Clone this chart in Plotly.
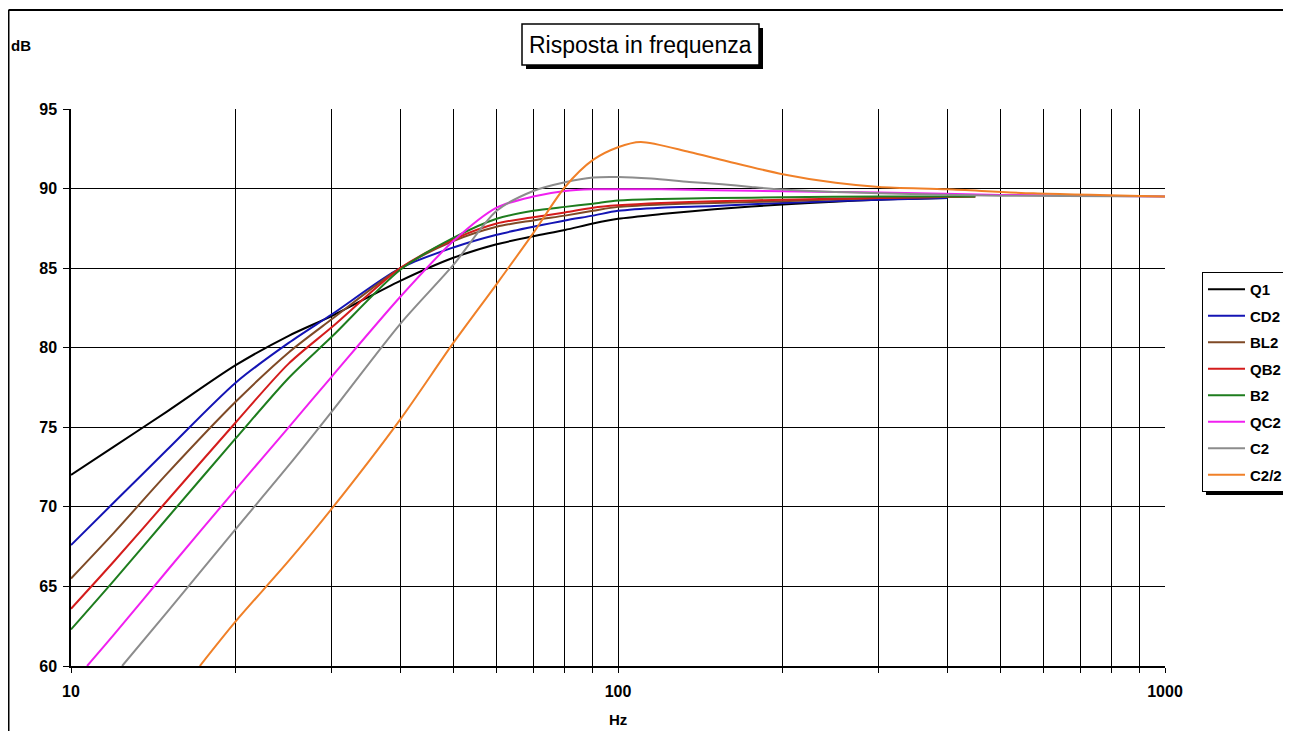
import plotly.graph_objects as go

# ---------------- data ----------------
series_names = ["Q1", "CD2", "BL2", "QB2", "B2", "QC2", "C2", "C2/2"]

freq_Q1 = [10, 12, 15, 20, 25, 30, 40, 50, 60, 70, 80, 90, 100, 120, 150, 200, 300, 400]
db_Q1 = [72.0, 73.8, 76.0, 78.9, 80.75, 82.0, 84.2, 85.65, 86.5, 87.0, 87.4, 87.8, 88.1, 88.4, 88.7, 89.0, 89.3, 89.4]

freq_CD2 = [10, 12, 15, 20, 25, 30, 40, 50, 60, 70, 80, 90, 100, 120, 150, 200, 300, 400]
db_CD2 = [67.6, 70.3, 73.6, 77.8, 80.3, 82.1, 85.0, 86.3, 87.1, 87.6, 88.0, 88.3, 88.6, 88.8, 88.9, 89.1, 89.3, 89.4]

freq_BL2 = [10, 12, 15, 20, 25, 30, 40, 50, 60, 70, 80, 90, 100, 120, 150, 200, 300, 450]
db_BL2 = [65.5, 68.4, 72.1, 76.6, 79.7, 81.8, 85.0, 86.7, 87.6, 88.0, 88.3, 88.6, 88.85, 89.0, 89.1, 89.2, 89.4, 89.5]

freq_QB2 = [10, 12, 15, 20, 25, 30, 40, 50, 60, 70, 80, 90, 100, 120, 150, 200, 300, 450]
db_QB2 = [63.6, 66.6, 70.4, 75.3, 79.0, 81.3, 85.0, 86.8, 87.8, 88.2, 88.5, 88.8, 88.95, 89.1, 89.2, 89.3, 89.4, 89.5]

freq_B2 = [10, 12, 15, 20, 25, 30, 40, 50, 60, 70, 80, 90, 100, 120, 150, 200, 300, 450]
db_B2 = [62.3, 65.4, 69.3, 74.3, 78.1, 80.7, 84.9, 86.9, 88.1, 88.6, 88.85, 89.05, 89.25, 89.35, 89.4, 89.45, 89.5, 89.5]

freq_QC2 = [10.7, 12, 15, 20, 25, 30, 40, 50, 60, 70, 80, 90, 100, 120, 150, 200, 300, 500, 1000]
db_QC2 = [60.0, 62.0, 66.0, 71.1, 75.0, 78.2, 83.2, 86.7, 88.8, 89.5, 89.85, 89.95, 89.96, 89.95, 89.9, 89.83, 89.75, 89.6, 89.5]

freq_C2 = [12.4, 15, 20, 25, 30, 40, 50, 60, 70, 80, 90, 100, 115, 135, 155, 175, 200, 300, 500, 1000]
db_C2 = [60.0, 63.4, 68.6, 72.6, 76.0, 81.5, 85.2, 88.6, 89.85, 90.4, 90.7, 90.73, 90.63, 90.42, 90.27, 90.1, 89.94, 89.7, 89.55, 89.5]

freq_C2_2 = [17.2, 20, 25, 30, 40, 50, 60, 70, 80, 90, 100, 110, 135, 155, 200, 250, 300, 400, 575, 1000]
db_C2_2 = [60.0, 62.8, 66.6, 69.9, 75.5, 80.3, 84.0, 87.2, 90.1, 91.8, 92.6, 92.93, 92.3, 91.8, 90.9, 90.36, 90.1, 89.95, 89.7, 89.5]

x_tick_vals = [10, 20, 30, 40, 50, 60, 70, 80, 90, 100, 200, 300, 400, 500, 600, 700, 800, 900, 1000]
x_tick_text = ["10", "", "", "", "", "", "", "", "", "100", "", "", "", "", "", "", "", "", "1000"]
y_tick_vals = [60, 65, 70, 75, 80, 85, 90, 95]

title_text = "Risposta in frequenza"
y_label = "dB"
x_label = "Hz"

# ---------------- styling ----------------
colors = ["#000000", "#1414b4", "#7f4a26", "#d41c1c", "#1e7d1e", "#f020f0", "#8c8c8c", "#f08028"]
freqs = [freq_Q1, freq_CD2, freq_BL2, freq_QB2, freq_B2, freq_QC2, freq_C2, freq_C2_2]
dbs = [db_Q1, db_CD2, db_BL2, db_QB2, db_B2, db_QC2, db_C2, db_C2_2]

OFF = 8                      # page body margin of the html page
W, H = 1291 - OFF, 731 - OFF
# plot area in reference page pixels
L, R, T, B = 71, 1165, 109, 666
PW, PH = R - L, B - T


def px(x):
    return (x - L) / PW


def py(y):
    return (B - y) / PH


def cx(x):
    return (x - OFF) / W


def cy(y):
    return 1 - (y - OFF) / H


FONT = "Liberation Sans, Arial, sans-serif"

fig = go.Figure()
for name, f, d, c in zip(series_names, freqs, dbs, colors):
    fig.add_trace(go.Scatter(
        x=f, y=d, name=name, mode="lines",
        line=dict(color=c, width=2, shape="spline", smoothing=0.8),
        legendgroup=name, hoverinfo="x+y+name",
    ))

fig.update_layout(
    width=W, height=H,
    margin=dict(l=L - OFF, r=W - (R - OFF), t=T - OFF, b=H - (B - OFF)),
    paper_bgcolor="white", plot_bgcolor="white",
    font=dict(family=FONT, color="black"),
    showlegend=True,
    legend=dict(
        xref="container", yref="container",
        x=cx(1202), y=cy(272), xanchor="left", yanchor="top",
        bgcolor="white", bordercolor="black", borderwidth=1,
        font=dict(family=FONT, size=15, color="black", weight="bold"),
        tracegroupgap=4, itemwidth=37,
    ),
    xaxis=dict(
        type="log", range=[1, 3],
        tickmode="array", tickvals=x_tick_vals, ticktext=x_tick_text,
        showgrid=True, gridcolor="black", gridwidth=1,
        showline=True, linecolor="black", linewidth=1.5,
        ticks="outside", ticklen=5, tickcolor="black", tickwidth=1,
        tickfont=dict(family=FONT, size=16, color="black", weight="bold"),
        ticklabelstandoff=5,
        zeroline=False, mirror=False,
    ),
    yaxis=dict(
        range=[60, 95], tickmode="array", tickvals=y_tick_vals,
        showgrid=True, gridcolor="black", gridwidth=1,
        showline=True, linecolor="black", linewidth=1.5,
        ticks="outside", ticklen=6, tickcolor="black", tickwidth=1,
        tickfont=dict(family=FONT, size=16, color="black", weight="bold"),
        ticklabelstandoff=3,
        zeroline=False, mirror=False,
    ),
)

shapes = [
    # outer chart border (top and left edges visible)
    dict(type="line", xref="paper", yref="paper", x0=px(8.5), x1=px(1300), y0=py(10), y1=py(10),
         line=dict(color="black", width=2)),
    dict(type="line", xref="paper", yref="paper", x0=px(8.5), x1=px(8.5), y0=py(10), y1=py(740),
         line=dict(color="black", width=2)),
    # title shadow + box
    dict(type="rect", xref="paper", yref="paper", x0=px(526), x1=px(763), y0=py(69), y1=py(28),
         fillcolor="black", line=dict(width=0), layer="above"),
    dict(type="rect", xref="paper", yref="paper", x0=px(522), x1=px(759), y0=py(65), y1=py(24),
         fillcolor="white", line=dict(color="black", width=1.5), layer="above"),
    # legend shadow
    dict(type="rect", xref="paper", yref="paper", x0=px(1206), x1=px(1291), y0=py(495), y1=py(276),
         fillcolor="black", line=dict(width=0), layer="above"),
]
fig.update_layout(shapes=shapes)

fig.add_annotation(text=title_text, xref="paper", yref="paper", x=px(640.5), y=py(44.5),
                   xanchor="center", yanchor="middle", showarrow=False,
                   font=dict(family=FONT, size=23, color="black"))
fig.add_annotation(text=y_label, xref="paper", yref="paper", x=px(9), y=py(45),
                   xanchor="left", yanchor="middle", showarrow=False,
                   font=dict(family=FONT, size=15, color="black", weight="bold"))
fig.add_annotation(text=x_label, xref="paper", yref="paper", x=px(618), y=py(719),
                   xanchor="center", yanchor="middle", showarrow=False,
                   font=dict(family=FONT, size=15, color="black", weight="bold"))

fig.write_html("out.html")
